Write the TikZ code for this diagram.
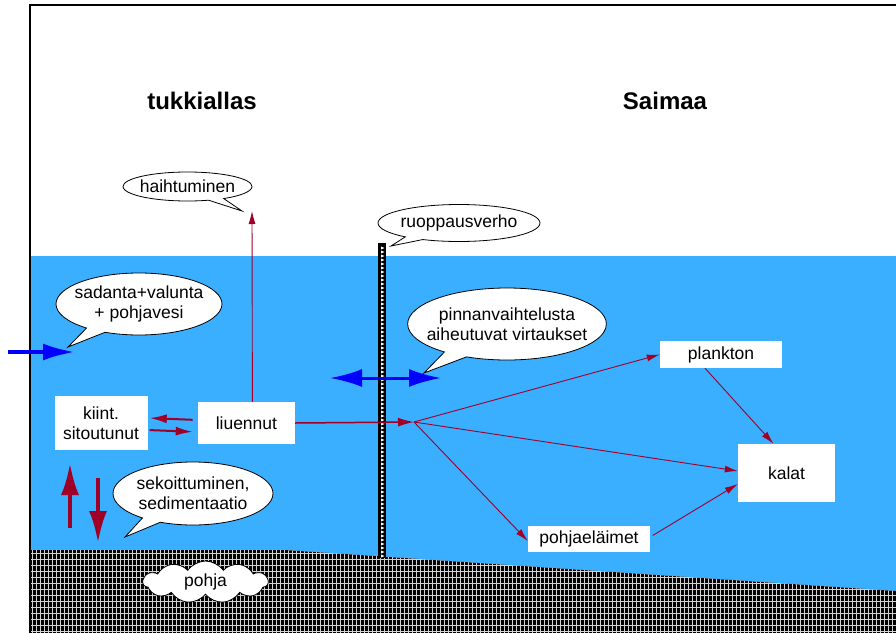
\documentclass[tikz,border=0pt]{standalone}
\usepackage{fontspec}
\setmainfont{Liberation Sans}
\usetikzlibrary{positioning}
\usetikzlibrary{shapes.callouts,shapes.symbols}
\usetikzlibrary{arrows.meta}
\definecolor{vesi}{HTML}{3AAEFF}
\definecolor{punainen}{HTML}{A00028}
\definecolor{sininen}{HTML}{0000FF}

\begin{document}
\begin{tikzpicture}[x=1pt, y=-1pt, node distance=50pt,
        teksti/.style={font=\fontsize{17.5}{20}\selectfont, align=center, text=black},
        laatikko/.style={teksti, fill=white, inner sep=0pt},
        kupla/.style={teksti, ellipse callout, draw, fill=white, line width=0.8pt, inner xsep=-10pt, inner ysep=0pt},
        otsikko/.style={font=\fontsize{24}{28}\selectfont\bfseries},
        ohut/.style={punainen, line width=0.9pt, -{Latex[length=13pt,width=7pt]}},
        keski/.style={punainen, line width=2pt, -{Latex[length=17pt,width=9pt]}},
        paksu/.style={punainen, line width=4pt, -{Latex[length=32pt,width=18pt]}},
        vesivirta/.style={sininen, line width=4pt, -{Latex[length=32pt,width=17pt]}}]
    \clip (0,0) rectangle (896,632);
    % vesi ja pohja
    \fill[vesi] (30,256) -- (900,256) -- (900,591.3) -- (285,550) -- (30,550) -- cycle;
    \begin{scope}
        \clip (30,550) -- (285,550) -- (900,591.3) -- (900,640) -- (30,640) -- cycle;
        \fill[black] (30,540) rectangle (900,640);
        \foreach \x in {32,36,...,900} \draw[gray!35, line width=0.8pt] (\x,540) -- (\x,640);
        \foreach \y in {553,559,...,640} \draw[gray!35, line width=0.8pt] (30,\y) -- (900,\y);
    \end{scope}
    \draw[line width=1.5pt] (30,640) -- (30,5) -- (900,5);
    % ruoppausverho
    \fill[black] (378,243) rectangle (386,558);
    \foreach \k in {0,...,77} \fill[white] (381,246.5+4*\k) -- (384.5,248+4*\k) -- (381,249.5+4*\k) -- cycle;

    \node[otsikko] (tukki) at (202,101) {tukkiallas};
    \node[otsikko] (saimaa) at (665,101) {Saimaa};

    \node[laatikko, minimum width=93pt, minimum height=54pt] (kiint) at (101,423) {kiint.\\sitoutunut};
    \node[laatikko, minimum width=97pt, minimum height=42pt, right=50pt of kiint] (liuennut) {liuennut};
    \node[laatikko, minimum width=122pt, minimum height=27pt] (plankton) at (721,354.5) {plankton};
    \node[laatikko, minimum width=97pt, minimum height=58pt] (kalat) at (786.5,473) {kalat};
    \node[laatikko, minimum width=122pt, minimum height=26pt] (pohjael) at (589,539) {pohjaeläimet};

    \coordinate (haihtu) at (252,211);
    \coordinate (haara) at (414,422);
    \coordinate (ylos1) at (70,528);
    \coordinate (ylos2) at (70,463);
    \coordinate (alas1) at (98,478);
    \coordinate (alas2) at (98,543);
    \coordinate (tulo1) at (8,352);
    \coordinate (tulo2) at (75,352);
    \coordinate (virta1) at (330,378);
    \coordinate (virta2) at (441,378);

    \draw[ohut] ([xshift=6pt]liuennut.north) -- (haihtu);
    \draw[keski, shorten <=5pt, shorten >=2pt] ([yshift=3pt]liuennut.west) -- ([yshift=5pt]kiint.east);
    \draw[keski, shorten <=2pt, shorten >=5pt] ([yshift=-7pt]kiint.east) -- ([yshift=-9pt]liuennut.west);
    \draw[punainen, line width=1.5pt, -{Latex[length=16pt,width=9pt]}] (liuennut.east) -- (haara);
    \draw[ohut] (haara) -- (plankton.west);
    \draw[ohut] (haara) -- ([yshift=2pt]kalat.west);
    \draw[ohut] (haara) -- ([yshift=-2pt]pohjael.west);
    \draw[ohut] ([xshift=-16pt]plankton.south) -- ([xshift=-13pt]kalat.north);
    \draw[ohut, shorten <=3pt] ([yshift=2pt]pohjael.east) -- ([yshift=-11pt]kalat.west);
    \draw[paksu] (ylos1) -- (ylos2);
    \draw[paksu] (alas1) -- (alas2);
    \draw[vesivirta] (tulo1) -- (tulo2);
    \draw[vesivirta, line width=3pt, {Latex[length=32pt,width=18pt]}-{Latex[length=32pt,width=18pt]}] (virta1) -- (virta2);

    \node[kupla, minimum width=129pt, minimum height=29pt, callout absolute pointer={(242,211)}] (haihtuminen) at (187.5,186.5) {haihtuminen};
    \node[kupla, minimum width=162pt, minimum height=37pt, callout absolute pointer={(391,246)}] (ruoppaus) at (459,223) {ruoppausverho};
    \node[kupla, minimum width=166pt, minimum height=62pt, callout absolute pointer={(68,347)}] (sadanta) at (139,304) {sadanta+valunta\\+ pohjavesi};
    \node[kupla, minimum width=197pt, minimum height=72pt, callout absolute pointer={(424,373)}] (pinnan) at (507,324) {pinnanvaihtelusta\\aiheutuvat virtaukset};
    \node[kupla, minimum width=160pt, minimum height=63pt, callout absolute pointer={(125,537)}] (sekoitt) at (193,493.5) {sekoittuminen,\\sedimentaatio};
    \node[teksti, cloud, cloud puffs=11, cloud puff arc=110, aspect=3, draw, fill=white, line width=0.8pt, minimum width=125pt, minimum height=42pt, inner sep=0pt] (pohja) at (205.5,582) {pohja};
\end{tikzpicture}
\end{document}
